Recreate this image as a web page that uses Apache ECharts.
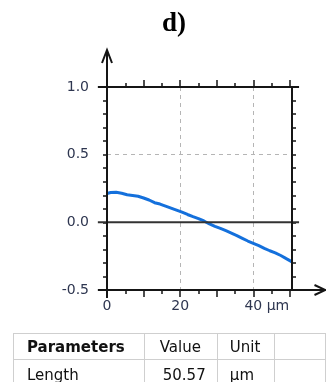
<!DOCTYPE html>
<html>
<head>
<meta charset="utf-8">
<script src="https://cdn.jsdelivr.net/npm/echarts@6/dist/echarts.min.js"></script>
<style>
  html, body { margin: 0; padding: 0; background: #fff; }
  #wrap { position: relative; width: 326px; height: 382px; overflow: hidden; }
  #chart { position: absolute; left: 0; top: 0; width: 326px; height: 382px; }
  #tbl { position: absolute; left: 13px; top: 333px; border-collapse: collapse;
         font-family: "DejaVu Sans", Verdana, sans-serif; font-size: 15px; color: #111; }
  #tbl td { border: 1px solid #cfcfcf; padding: 0; height: 26px; white-space: nowrap; }
</style>
</head>
<body>
<div id="wrap">
  <div id="chart"></div>
  <table id="tbl">
    <tr>
      <td style="width:134px;padding-left:13px;font-weight:bold;box-sizing:border-box;" id="h0"></td>
      <td style="width:75px;padding-left:15px;box-sizing:border-box;" id="h1"></td>
      <td style="width:59px;padding-left:12px;box-sizing:border-box;" id="h2"></td>
      <td style="width:60px;box-sizing:border-box;"></td>
    </tr>
    <tr>
      <td style="padding-left:13px;height:29px;" id="r0"></td>
      <td style="padding-left:18px;" id="r1"></td>
      <td style="padding-left:12px;" id="r2"></td>
      <td></td>
    </tr>
  </table>
</div>
<script>
// ---- data ----
var title = 'd)';
var profileX = [0, 1, 2.5, 4, 5.5, 7, 8.5, 10, 11.5, 13, 14.5, 16, 17.5, 19, 20.5, 22, 23.5, 25, 26.5, 28,
                29.5, 31, 32.5, 34, 35.5, 37, 38.5, 40, 41.5, 43, 44.5, 46, 47.5, 49, 50.57];
var profileY = [0.213, 0.220, 0.222, 0.215, 0.204, 0.199, 0.193, 0.180, 0.165, 0.145, 0.135, 0.120, 0.105,
                0.090, 0.075, 0.058, 0.042, 0.028, 0.010, -0.012, -0.030, -0.045, -0.062, -0.080, -0.098,
                -0.118, -0.138, -0.155, -0.172, -0.192, -0.210, -0.225, -0.245, -0.268, -0.292];
var xMajorTicks = [0, 10, 20, 30, 40, 50];
var xMinorTicks = [5, 15, 25, 35, 45];
var xLabelValues = [0, 20, 40];
var xTickLabels = {0: '0', 20: '20', 40: '{h| µm}40 µm'};
var yTickLabels = {'-0.5': '-0.5', '0': '0.0', '0.5': '0.5', '1': '1.0'};
var tableHeader = ['Parameters', 'Value', 'Unit'];
var tableRow = ['Length', '50.57', 'µm'];

document.getElementById('h0').textContent = tableHeader[0];
document.getElementById('h1').textContent = tableHeader[1];
document.getElementById('h2').textContent = tableHeader[2];
document.getElementById('r0').textContent = tableRow[0];
document.getElementById('r1').textContent = tableRow[1];
document.getElementById('r2').textContent = tableRow[2];

var XMAX = 50.57;
var lineData = profileX.map(function (x, i) { return [x, profileY[i]]; });
var labelColor = '#2e3650';
var axisColor = '#151515';
var font = '"DejaVu Sans", Verdana, sans-serif';

function xTickAxis(pos, values, len, withLabels) {
  return {
    type: 'value', position: pos, min: 0, max: XMAX,
    axisLine: {show: false, onZero: false},
    axisTick: {show: true, inside: false, length: len, customValues: values, lineStyle: {color: axisColor, width: 1.5}},
    splitLine: {show: false},
    axisLabel: withLabels ? {
      show: true, margin: 9, color: labelColor, fontSize: 14, fontFamily: font,
      customValues: xLabelValues,
      formatter: function (v) { return xTickLabels[v] !== undefined ? xTickLabels[v] : ''; },
      rich: {h: {color: 'transparent', fontSize: 14, fontFamily: font}}
    } : {show: false}
  };
}

var chart = echarts.init(document.getElementById('chart'), null, {renderer: 'canvas'});
var option = {
  animation: false,
  backgroundColor: '#fff',
  title: {
    text: title, left: 162, top: 11, padding: 0,
    textStyle: {fontFamily: '"Liberation Serif", "Times New Roman", serif', fontWeight: 'bold', fontSize: 27, color: '#000'}
  },
  grid: {left: 107, right: 34, top: 87, bottom: 92, containLabel: false},
  xAxis: [
    xTickAxis('bottom', xMajorTicks, 7, true),
    xTickAxis('bottom', xMinorTicks, 4, false),
    xTickAxis('top', xMajorTicks, 7, false),
    xTickAxis('top', xMinorTicks, 4, false),
    { // grid lines every 20
      type: 'value', position: 'bottom', min: 0, max: XMAX, interval: 20,
      axisLine: {show: false, onZero: false}, axisTick: {show: false}, axisLabel: {show: false},
      splitLine: {show: true, lineStyle: {color: '#b5b5b5', type: [4, 4], width: 1}}
    }
  ],
  yAxis: [
    { // left
      type: 'value', position: 'left', min: -0.5, max: 1, interval: 0.5,
      axisLine: {show: false, onZero: false},
      axisTick: {show: true, inside: false, length: 4, lineStyle: {color: axisColor, width: 1.5}},
      minorTick: {show: true, splitNumber: 5, length: 4, lineStyle: {color: axisColor, width: 1.5}},
      splitLine: {show: true, lineStyle: {color: '#b5b5b5', type: [4, 4], width: 1}},
      axisLabel: {
        show: true, margin: 18, color: labelColor, fontSize: 14, fontFamily: font,
        formatter: function (v) { var k = String(Math.round(v * 10) / 10); return yTickLabels[k] || ''; }
      }
    },
    { // right
      type: 'value', position: 'right', min: -0.5, max: 1, interval: 0.5,
      axisLine: {show: false, onZero: false},
      axisTick: {show: true, inside: false, length: 4, lineStyle: {color: axisColor, width: 1.5}},
      minorTick: {show: true, splitNumber: 5, length: 4, lineStyle: {color: axisColor, width: 1.5}},
      splitLine: {show: false},
      axisLabel: {show: false}
    }
  ],
  series: [{
    type: 'line', xAxisIndex: 0, yAxisIndex: 0, data: lineData,
    showSymbol: false, smooth: false,
    lineStyle: {color: '#1470dc', width: 3}
  }]
};
chart.setOption(option);

// Axis frame lines drawn through the chart's own scales
function px(x, y) { return chart.convertToPixel({xAxisIndex: 0, yAxisIndex: 0}, [x, y]); }
var pTopL = px(-2.5, 1), pTopR = px(52.5, 1);
var pZeroL = px(-2.5, 0), pZeroR = px(52.5, 0);
var pBotL = px(-2.5, -0.5), pBotR = px(XMAX, -0.5);
var pOrig = px(0, -0.5), pYtop = px(0, 1), pRt = px(XMAX, 1), pRb = px(XMAX, -0.5);
var arrowXEnd = 325.5, arrowYEnd = pYtop[1] - 37;
var ls = {stroke: axisColor, lineWidth: 2};
chart.setOption({
  graphic: [
    {type: 'line', shape: {x1: pTopL[0], y1: pTopL[1], x2: pTopR[0], y2: pTopR[1]}, style: ls, z: 100},
    {type: 'line', shape: {x1: pZeroL[0], y1: pZeroL[1], x2: pZeroR[0], y2: pZeroR[1]}, style: {stroke: '#333', lineWidth: 2}, z: 100},
    {type: 'line', shape: {x1: pBotL[0], y1: pBotL[1], x2: arrowXEnd, y2: pBotR[1]}, style: ls, z: 100},
    {type: 'line', shape: {x1: pOrig[0], y1: pOrig[1] + 8, x2: pOrig[0], y2: arrowYEnd}, style: ls, z: 100},
    {type: 'line', shape: {x1: pRt[0], y1: pRt[1] - 1, x2: pRb[0], y2: pRb[1]}, style: ls, z: 100},
    {type: 'polyline', shape: {points: [[arrowXEnd - 11, pBotR[1] - 5], [arrowXEnd, pBotR[1]], [arrowXEnd - 11, pBotR[1] + 5]]}, style: {stroke: axisColor, lineWidth: 2, fill: null}, z: 100},
    {type: 'polyline', shape: {points: [[pOrig[0] - 5, arrowYEnd + 13], [pOrig[0], arrowYEnd], [pOrig[0] + 5, arrowYEnd + 13]]}, style: {stroke: axisColor, lineWidth: 2, fill: null}, z: 100}
  ]
});
</script>
</body>
</html>
